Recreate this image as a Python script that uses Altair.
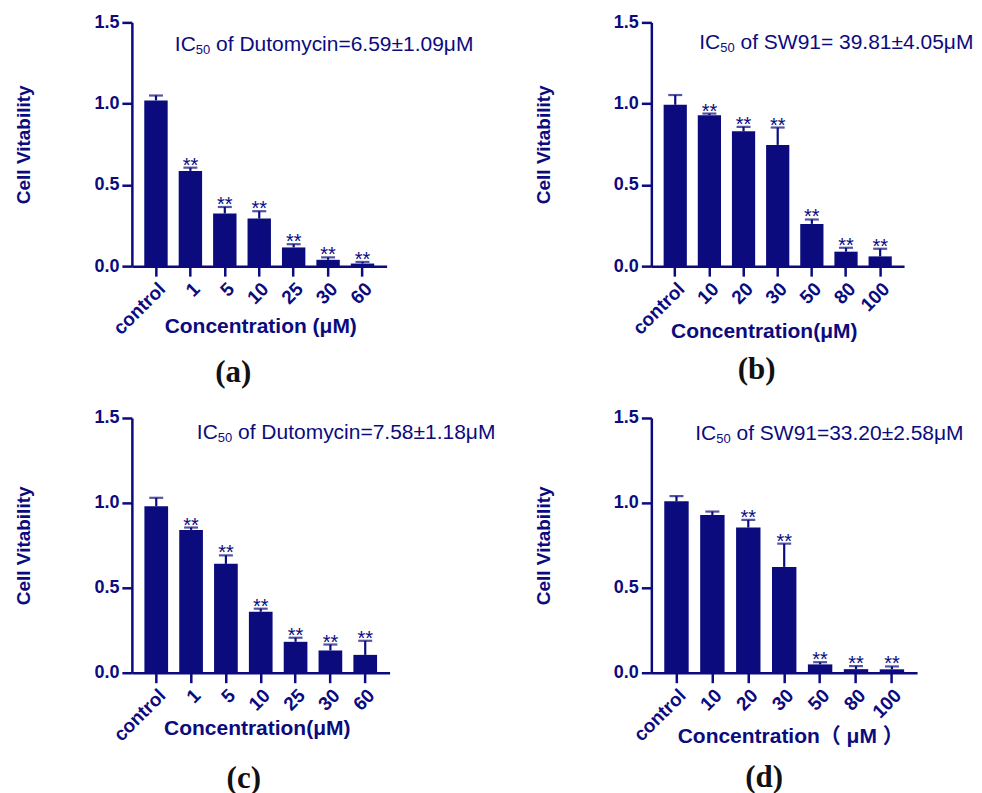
import altair as alt
import pandas as pd

NAVY = "#0b0b7e"
SANS = "Liberation Sans, Arial, DejaVu Sans, Noto Sans CJK SC"

# ---- data ----
a_labels = ["control", "1", "5", "10", "25", "30", "60"]
a_vals = [1.02, 0.586, 0.324, 0.293, 0.115, 0.039, 0.016]
a_err = [0.03, 0.02, 0.04, 0.045, 0.02, 0.015, 0.01]
a_sig = ["", "**", "**", "**", "**", "**", "**"]

b_labels = ["control", "10", "20", "30", "50", "80", "100"]
b_vals = [0.993, 0.929, 0.83, 0.746, 0.26, 0.089, 0.06]
b_err = [0.06, 0.01, 0.027, 0.107, 0.027, 0.024, 0.047]
b_sig = ["", "**", "**", "**", "**", "**", "**"]

c_labels = ["control", "1", "5", "10", "25", "30", "60"]
c_vals = [0.98, 0.841, 0.641, 0.359, 0.182, 0.131, 0.105]
c_err = [0.05, 0.014, 0.05, 0.018, 0.024, 0.035, 0.083]
c_sig = ["", "**", "**", "**", "**", "**", "**"]

d_labels = ["control", "10", "20", "30", "50", "80", "100"]
d_vals = [1.009, 0.929, 0.855, 0.623, 0.049, 0.021, 0.02]
d_err = [0.031, 0.02, 0.045, 0.137, 0.013, 0.018, 0.017]
d_sig = ["", "", "**", "**", "**", "**", "**"]

y_ticks = [0, 0.5, 1.0, 1.5]

ann_a = ("IC", "50", "of Dutomycin=6.59\u00b11.09\u03bcM")
ann_b = ("IC", "50", "of SW91= 39.81\u00b14.05\u03bcM")
ann_c = ("IC", "50", "of Dutomycin=7.58\u00b11.18\u03bcM")
ann_d = ("IC", "50", "of SW91=33.20\u00b12.58\u03bcM")

xt_a = "Concentration (\u03bcM)"
xt_b = "Concentration(\u03bcM)"
xt_c = "Concentration(\u03bcM)"
xt_d = "Concentration\uff08 \u03bcM \uff09"

FS_MAIN = 21
FS_SUB = 13


def panel(labels, vals, errs, sig, w, h, ann, ax, ay, xtitle, xt_dx, xt_y, letter, letter_dx, letter_dy):
    df = pd.DataFrame({
        "cat": labels,
        "val": vals,
        "top": [v + e for v, e in zip(vals, errs)],
        "sig": sig,
    })
    base = alt.Chart(df)
    xenc = alt.X(
        "cat:N",
        sort=labels,
        scale=alt.Scale(paddingInner=0.32, paddingOuter=0.36),
        axis=alt.Axis(
            title=xtitle,
            labelAngle=-45,
            labelAlign="right",
            labelBaseline="top",
            labelPadding=3,
            labelFontSize=19,
            titleY=xt_y,
            titleX=w / 2 + xt_dx,
            titleBaseline="middle",
            titleFontSize=21,
        ),
    )
    yscale = alt.Scale(domain=[0, 1.5], nice=False, zero=True)
    yenc = alt.Y(
        "val:Q",
        scale=yscale,
        axis=alt.Axis(
            values=y_ticks,
            format=".1f",
            title="Cell Vitability",
            titleX=-108,
            titleBaseline="middle",
            titleFontSize=19,
        ),
    )
    bars = base.mark_bar(color=NAVY).encode(x=xenc, y=yenc)
    rule = base.mark_rule(color=NAVY, strokeWidth=2.2).encode(
        x=alt.X("cat:N", sort=labels),
        y=alt.Y("val:Q", scale=yscale),
        y2="top:Q",
    )
    cap = base.mark_tick(color=NAVY, size=14, thickness=2.2).encode(
        x=alt.X("cat:N", sort=labels),
        y=alt.Y("top:Q", scale=yscale),
    )
    stars = base.mark_text(
        color=NAVY, font=SANS, fontSize=20, baseline="alphabetic", dy=4
    ).encode(
        x=alt.X("cat:N", sort=labels),
        y=alt.Y("top:Q", scale=yscale),
        text="sig:N",
    )
    one = pd.DataFrame({"t": [ann[0]], "s": [ann[1]], "r": [ann[2]], "l": [letter]})
    ob = alt.Chart(one)
    w_ic = 1.0 * FS_MAIN
    w_sub = 1.112 * FS_SUB
    w_sp = 0.278 * FS_MAIN
    t1 = ob.mark_text(color=NAVY, font=SANS, fontSize=FS_MAIN, align="left",
                      baseline="alphabetic").encode(
        text="t:N", x=alt.value(ax), y=alt.value(ay))
    t2 = ob.mark_text(color=NAVY, font=SANS, fontSize=FS_SUB, align="left",
                      baseline="alphabetic").encode(
        text="s:N", x=alt.value(ax + w_ic), y=alt.value(ay + 3))
    t3 = ob.mark_text(color=NAVY, font=SANS, fontSize=FS_MAIN, align="left",
                      baseline="alphabetic").encode(
        text="r:N", x=alt.value(ax + w_ic + w_sub + w_sp), y=alt.value(ay))
    lt = ob.mark_text(color="#111111", font="Liberation Serif, DejaVu Serif", fontSize=31,
                      fontWeight="bold", align="center", baseline="middle").encode(
        text="l:N", x=alt.value(w / 2 + letter_dx), y=alt.value(h + letter_dy))
    return alt.layer(bars, rule, cap, stars, t1, t2, t3, lt).properties(width=w, height=h)


pa = panel(a_labels, a_vals, a_err, a_sig, 255, 244, ann_a, 43, 28.5, xt_a, 1, 60, "(a)", -26, 107)
pb = panel(b_labels, b_vals, b_err, b_sig, 253, 244, ann_b, 48, 27, xt_b, -14, 65, "(b)", -21, 104)
pc = panel(c_labels, c_vals, c_err, c_sig, 258, 255, ann_c, 65, 21, xt_c, -4, 56, "(c)", -17, 106)
pd_ = panel(d_labels, d_vals, d_err, d_sig, 266, 255, ann_d, 44, 22, xt_d, 6, 64, "(d)", -20, 105)

chart = alt.concat(
    pa, pb, pc, pd_, columns=2, spacing={"row": 152, "column": 262}, bounds="flush"
).properties(
    padding={"left": 6, "top": 5, "right": 0, "bottom": 0}
).configure_view(stroke=None).configure_axis(
    domainColor=NAVY,
    domainWidth=2.5,
    tickColor=NAVY,
    tickWidth=2.5,
    tickSize=10,
    labelColor=NAVY,
    labelFont=SANS,
    labelFontWeight="bold",
    labelFontSize=18,
    titleColor=NAVY,
    titleFont=SANS,
    titleFontWeight="bold",
    grid=False,
).configure_axisY(labelPadding=3)

chart.save("out.html", embed_options={"renderer": "svg", "actions": False})
